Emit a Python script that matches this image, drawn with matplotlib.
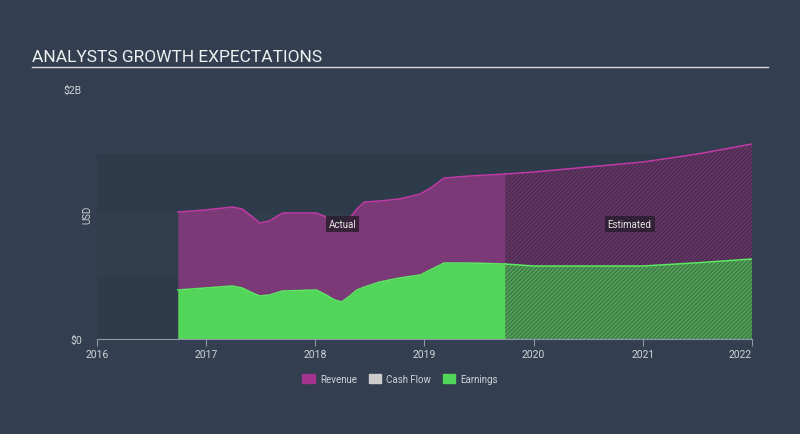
import matplotlib
matplotlib.use("Agg")
import matplotlib.pyplot as plt
from matplotlib.patches import Patch

# decimal years, values in $B
act_dates = [2016.74, 2016.99, 2017.24, 2017.33, 2017.42, 2017.49, 2017.58, 2017.70, 2018.01,
             2018.10, 2018.17, 2018.24, 2018.31, 2018.38, 2018.45, 2018.59, 2018.77, 2018.96,
             2019.07, 2019.18, 2019.41, 2019.74]
act_revenue = [1.016, 1.032, 1.056, 1.04, 0.98, 0.928, 0.944, 1.008, 1.008,
               0.976, 0.93, 0.896, 0.96, 1.04, 1.096, 1.104, 1.12, 1.16,
               1.216, 1.288, 1.304, 1.32]
act_earnings = [0.392, 0.408, 0.424, 0.408, 0.37, 0.344, 0.352, 0.384, 0.392,
                0.352, 0.315, 0.296, 0.34, 0.392, 0.416, 0.456, 0.488, 0.512,
                0.56, 0.608, 0.608, 0.60]

est_dates = [2019.74, 2020.0, 2020.5, 2021.0, 2021.5, 2022.0]
est_revenue = [1.32, 1.336, 1.376, 1.416, 1.48, 1.56]
est_earnings = [0.60, 0.584, 0.584, 0.584, 0.61, 0.64]

years = [2016, 2017, 2018, 2019, 2020, 2021, 2022]

bg = '#333f50'
txt = '#cfd3d8'
rev_fill = '#7b3a77'
rev_line = '#c03aa5'
earn_fill = '#52d65a'
earn_line = '#5ce862'

plt.rcParams['font.family'] = ['Roboto', 'DejaVu Sans']
plt.rcParams['hatch.linewidth'] = 0.7

fig = plt.figure(figsize=(8, 4.35), dpi=100, facecolor=bg)
ax = fig.add_axes([97/800, 95/435, 655/800, 250/435])
ax.set_facecolor(bg)
ax.set_xlim(2016, 2022)
ax.set_ylim(0, 2)

# background bands
ax.axhspan(0, 0.5, color='#2e3b4a', lw=0, zorder=0)
ax.axhspan(0.5, 1.0, color='#313e4e', lw=0, zorder=0)
ax.axhspan(1.0, 1.48, color='#2e3b4a', lw=0, zorder=0)

# actual
ax.fill_between(act_dates, act_revenue, 0, color=rev_fill, lw=0, zorder=1)
ax.plot(act_dates, act_revenue, color=rev_line, lw=1.1, zorder=2, solid_joinstyle='round')
ax.fill_between(act_dates, act_earnings, 0, color=earn_fill, lw=0, zorder=3)
ax.plot(act_dates, act_earnings, color=earn_line, lw=1.1, zorder=4, solid_joinstyle='round')

# estimated
ax.fill_between(est_dates, est_revenue, 0, facecolor='#623664', edgecolor='#48284c',
                hatch='////////', lw=0, zorder=1)
ax.plot(est_dates, est_revenue, color=rev_line, lw=1.1, zorder=2)
ax.fill_between(est_dates, est_earnings, 0, facecolor='#51a056', edgecolor='#3a6d44',
                hatch='////////', lw=0, zorder=3)
ax.plot(est_dates, est_earnings, color=earn_line, lw=1.1, zorder=4)

box = dict(boxstyle='square,pad=0.3', fc='#2b1e30', ec='none', alpha=0.85)
ax.text(2018.25, 0.92, 'Actual', color='#e6e6e6', fontsize=7, ha='center', va='center',
        bbox=box, zorder=6)
ax.text(2020.88, 0.92, 'Estimated', color='#e6e6e6', fontsize=7, ha='center', va='center',
        bbox=box, zorder=6)

for s in ['top', 'right', 'left']:
    ax.spines[s].set_visible(False)
ax.spines['bottom'].set_color('#8e99a6')
ax.spines['bottom'].set_zorder(7)
ax.set_xticks(years)
ax.set_xticklabels([str(y) for y in years])
ax.tick_params(axis='x', colors='#8e99a6', length=5, labelcolor=txt, labelsize=7.5, pad=2)
ax.get_xticklabels()[-1].set_horizontalalignment('right')
ax.set_yticks([0, 2])
ax.set_yticklabels(['$0', '$2B'])
ax.tick_params(axis='y', length=0, labelcolor=txt, labelsize=7.5, pad=11)
ax.text(-0.007, 0.5, 'USD', transform=ax.transAxes, rotation=90, color=txt,
        fontsize=7, ha='right', va='center')

fig.text(32/800, 1 - 57/435, 'ANALYSTS GROWTH EXPECTATIONS', color='#eef0f2',
         fontsize=12.5, va='center', ha='left')
fig.add_artist(plt.Line2D([32/800, 768/800], [1 - 68/435, 1 - 68/435], color='#dcdcdc', lw=1))

handles = [Patch(color='#a3338f', label='Revenue'),
           Patch(color='#cccccc', label='Cash Flow'),
           Patch(color=earn_fill, label='Earnings')]
leg = fig.legend(handles=handles, loc='center', bbox_to_anchor=(0.5, 1 - 380/435), ncol=3,
                 frameon=False, fontsize=7, handlelength=1.3, handleheight=1.0,
                 columnspacing=1.2, handletextpad=0.5)
for t in leg.get_texts():
    t.set_color(txt)

fig.savefig('out.png', dpi=100, facecolor=bg)
